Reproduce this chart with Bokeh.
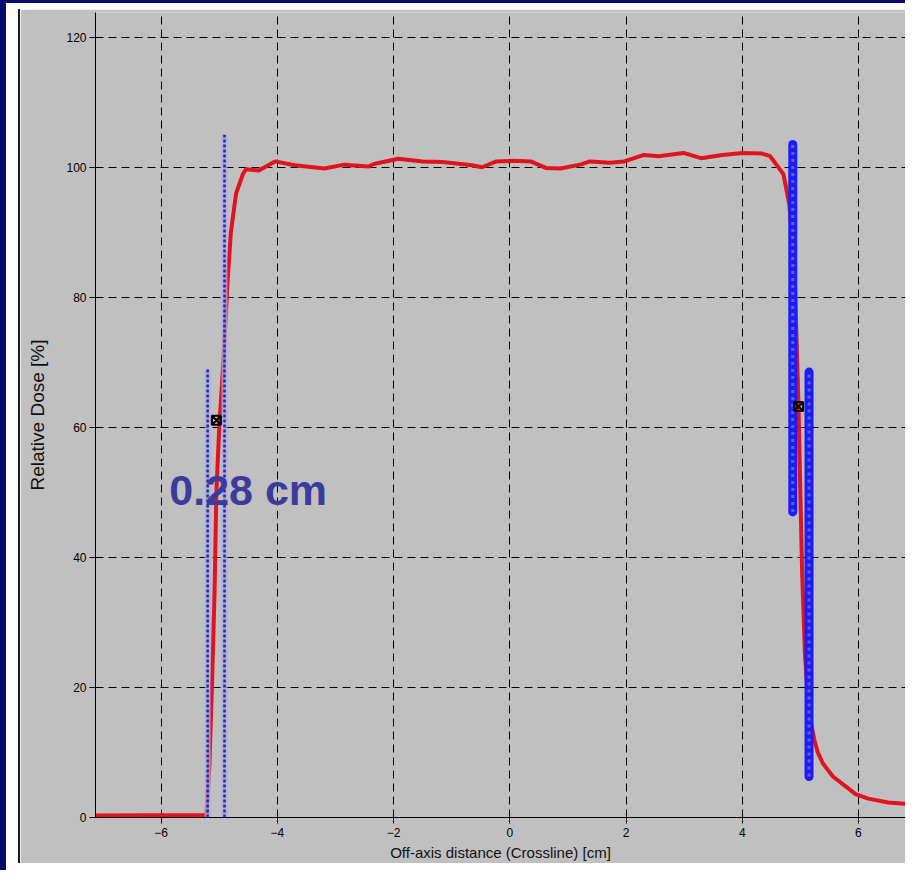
from bokeh.plotting import figure
from bokeh.layouts import row, column
from bokeh.models import FixedTicker, Range1d, Label, Div
from bokeh.embed import file_html
from bokeh.resources import INLINE

# ---- data ----
x_ticks = [-6, -4, -2, 0, 2, 4, 6]
y_ticks = [0, 20, 40, 60, 80, 100, 120]

red_x = [-7.20, -5.22, -5.17, -5.12, -5.08, -5.05, -5.00, -4.93, -4.86, -4.80, -4.71,
         -4.59, -4.54, -4.32, -4.04, -3.70, -3.19, -2.85, -2.43, -2.34, -1.92, -1.50,
         -1.16, -0.65, -0.48, -0.23, 0.08, 0.36, 0.62, 0.87, 1.21, 1.38, 1.72, 1.97,
         2.31, 2.56, 2.99, 3.29, 3.66, 4.00, 4.34, 4.48, 4.63, 4.71, 4.81, 4.90, 4.93,
         4.97, 5.00, 5.03, 5.08, 5.15, 5.24, 5.30, 5.39, 5.56, 5.78, 5.95, 6.17, 6.51,
         6.81, 6.96]
red_y = [0.3, 0.4, 8, 22, 35, 50, 60, 70, 82, 90, 96,
         99.0, 99.7, 99.5, 100.9, 100.3, 99.8, 100.4, 100.1, 100.5, 101.3, 100.9,
         100.8, 100.3, 100.0, 100.9, 101.0, 100.9, 99.9, 99.8, 100.4, 100.9, 100.7, 100.9,
         101.9, 101.7, 102.2, 101.4, 101.9, 102.2, 102.1, 101.7, 99.9, 98.9, 94.3, 85, 75,
         63, 50, 38, 25, 16, 12, 10, 8.3, 6.3, 4.8, 3.6, 2.9, 2.3,
         2.1, 2.0]

# left edge markers (thin dotted)
left_edge_x = [-5.20, -4.91]
left_edge_top = [69.0, 105.0]
left_edge_bottom = [0.0, 0.0]

# right edge markers (thick)
right_edge_x = [4.87, 5.15]
right_edge_top = [103.5, 68.5]
right_edge_bottom = [47.0, 6.3]

mark_x = [-5.05, 4.97]
mark_y = [61.1, 63.2]

gap_text = "0.28 cm"
gap_text_x = -5.86
gap_text_y = 50.4

# ---- layout sizes ----
W, H = 905, 870
TOP, LEFT, BOT = 9, 20, 7
PW, PH = W - LEFT, H - TOP - BOT

NAVY = "#0a0a6e"

p = figure(width=PW, height=PH,
           x_range=Range1d(-7.13, 6.81), y_range=Range1d(0, 123.8),
           output_backend="svg", toolbar_location=None,
           min_border_left=75, min_border_right=0, min_border_top=3, min_border_bottom=46)

p.background_fill_color = "#c0c0c0"
p.border_fill_color = "#c0c0c0"
p.outline_line_color = None

for ax in (p.xaxis[0], p.yaxis[0]):
    ax.axis_line_color = "black"
    ax.axis_line_width = 1
    ax.major_tick_line_color = "black"
    ax.major_tick_out = 6
    ax.major_tick_in = 0
    ax.minor_tick_line_color = None
    ax.major_label_text_font = "Liberation Sans"
    ax.major_label_text_font_size = "12px"
    ax.major_label_text_color = "black"
    ax.axis_label_text_font = "Liberation Sans"
    ax.axis_label_text_font_style = "normal"
    ax.axis_label_text_color = "#111111"

p.xaxis.ticker = FixedTicker(ticks=x_ticks)
p.yaxis.ticker = FixedTicker(ticks=y_ticks)
p.xaxis.axis_label = "Off-axis distance (Crossline) [cm]"
p.yaxis.axis_label = "Relative Dose [%]"
p.xaxis.axis_label_text_font_size = "15px"
p.yaxis.axis_label_text_font_size = "19px"
p.xaxis.major_label_standoff = 4
p.yaxis.major_label_standoff = 3
p.xaxis.axis_label_standoff = 4
p.yaxis.axis_label_standoff = 15

for g in (p.xgrid[0], p.ygrid[0]):
    g.grid_line_color = "black"
    g.grid_line_width = 1
    g.grid_line_dash = "8 5"
p.xgrid.ticker = FixedTicker(ticks=x_ticks)
p.ygrid.ticker = FixedTicker(ticks=y_ticks)

# profile
p.line(red_x, red_y, line_color="#e0141e", line_width=4, line_join="round")

# left edge markers
p.segment(left_edge_x, left_edge_bottom, left_edge_x, left_edge_top,
          line_color="#a9a9f2", line_width=6, line_alpha=0.75)
p.segment(left_edge_x, left_edge_bottom, left_edge_x, left_edge_top,
          line_color="#2b2b8c", line_width=2.5, line_dash="3 2")

# right edge markers
p.segment(right_edge_x, right_edge_bottom, right_edge_x, right_edge_top,
          line_color="#1c1cf5", line_width=9, line_cap="round")
p.segment(right_edge_x, right_edge_bottom, right_edge_x, right_edge_top,
          line_color="#5c5cff", line_width=3, line_dash="3 4")

p.scatter(mark_x, mark_y, marker="square_x", size=9, line_color="black",
          fill_color=None, line_width=2)

p.add_layout(Label(x=gap_text_x, y=gap_text_y, text=gap_text,
                   text_font="Liberation Sans", text_font_size="43px",
                   text_font_style="bold", text_color="#3b3b9e",
                   text_baseline="alphabetic"))

# window frame around the plot (navy edge, white margin, dark rule)
top_bar = Div(text="", width=W, height=TOP, margin=0, styles={
    "background": f"linear-gradient(to right, {NAVY} 0px, {NAVY} 6px, transparent 6px),"
                  f"linear-gradient(to bottom, {NAVY} 0px, {NAVY} 3px, #ffffff 3px, #ffffff {TOP}px)"})
left_bar = Div(text="", width=LEFT, height=PH, margin=0, styles={
    "background": f"linear-gradient(to right, {NAVY} 0px, {NAVY} 6px, #ffffff 6px, #ffffff 18px,"
                  f" #1a1a1a 18px, #1a1a1a 20px)"})
bottom_bar = Div(text="", width=W, height=BOT, margin=0, styles={
    "background": f"linear-gradient(to right, {NAVY} 0px, {NAVY} 6px, #ffffff 6px)"})

layout = column(top_bar, row(left_bar, p, spacing=0), bottom_bar, spacing=0)

open("out.html", "w").write(file_html(layout, INLINE))
